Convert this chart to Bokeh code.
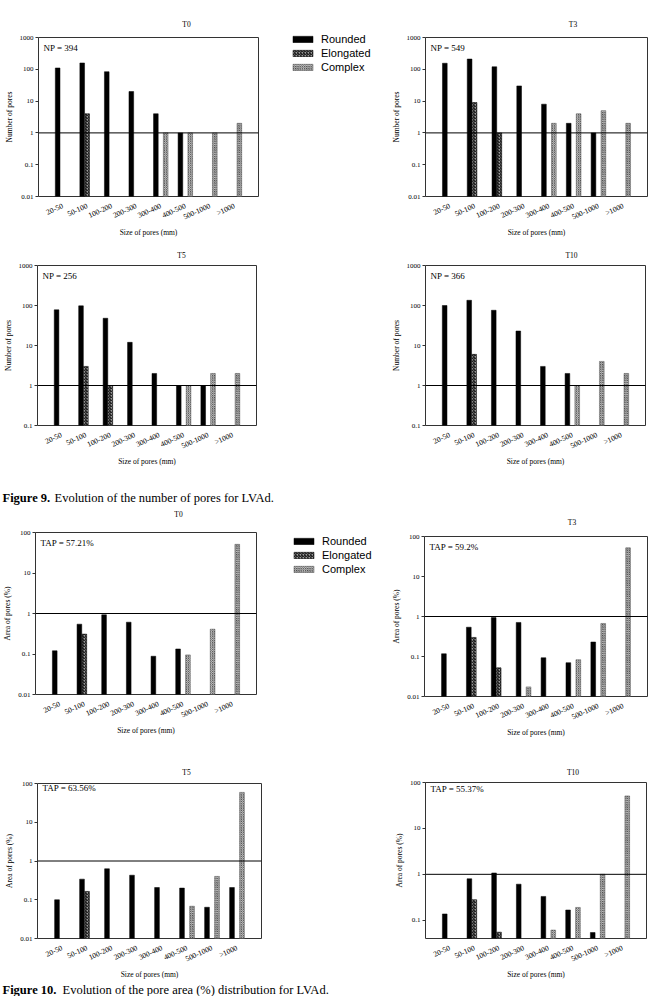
from bokeh.plotting import figure
from bokeh.models import (Range1d, FixedTicker, CustomJSTickFormatter, Span, Label,
                          Legend, LegendItem, Spacer, ColumnDataSource)
from bokeh.layouts import row, column
from bokeh.embed import file_html
from bokeh.resources import INLINE

categories = ["20-50", "50-100", "100-200", "200-300", "300-400", "400-500", "500-1000", ">1000"]
series_names = ["Rounded", "Elongated", "Complex"]

# Figure 9: number of pores (0 = no bar)
n_T0_rounded = [110, 158, 84, 20, 4, 1, 0, 0]
n_T0_elongated = [0, 4, 0, 0, 0, 0, 0, 0]
n_T0_complex = [0, 0, 0, 0, 1, 1, 1, 2]

n_T3_rounded = [155, 210, 120, 30, 8, 2, 1, 0]
n_T3_elongated = [0, 9, 1, 0, 0, 0, 0, 0]
n_T3_complex = [0, 0, 0, 0, 2, 4, 5, 2]

n_T5_rounded = [78, 98, 48, 12, 2, 1, 1, 0]
n_T5_elongated = [0, 3, 1, 0, 0, 0, 0, 0]
n_T5_complex = [0, 0, 0, 0, 0, 1, 2, 2]

n_T10_rounded = [100, 135, 76, 23, 3, 2, 0, 0]
n_T10_elongated = [0, 6, 0, 0, 0, 0, 0, 0]
n_T10_complex = [0, 0, 0, 0, 0, 1, 4, 2]

# Figure 10: area of pores (%) (0 = no bar)
a_T0_rounded = [0.12, 0.545, 0.93, 0.61, 0.088, 0.133, 0, 0]
a_T0_elongated = [0, 0.31, 0, 0, 0, 0, 0, 0]
a_T0_complex = [0, 0, 0, 0, 0, 0.095, 0.41, 51]

a_T3_rounded = [0.117, 0.54, 0.94, 0.71, 0.093, 0.07, 0.23, 0]
a_T3_elongated = [0, 0.30, 0.052, 0, 0, 0, 0, 0]
a_T3_complex = [0, 0, 0, 0.0174, 0, 0.083, 0.67, 52]

a_T5_rounded = [0.10, 0.34, 0.63, 0.43, 0.207, 0.20, 0.064, 0.207]
a_T5_elongated = [0, 0.164, 0, 0, 0, 0, 0, 0]
a_T5_complex = [0, 0, 0, 0, 0, 0.068, 0.40, 59]

a_T10_rounded = [0.137, 0.8, 1.07, 0.61, 0.33, 0.167, 0.054, 0]
a_T10_elongated = [0, 0.28, 0.055, 0, 0, 0, 0, 0]
a_T10_complex = [0, 0, 0, 0, 0.061, 0.19, 1.0, 51]

notes = {
    "9T0": "NP = 394", "9T3": "NP = 549", "9T5": "NP = 256", "9T10": "NP = 366",
    "10T0": "TAP = 57.21%", "10T3": "TAP = 59.2%", "10T5": "TAP = 63.56%", "10T10": "TAP = 55.37%",
}

SERIF = "Liberation Serif"
SANS = "Liberation Sans"
OFFSETS = [-0.2, 0.0, 0.2]
BAR_W = 0.19
TOP_PAD = 5

STYLES = [
    dict(fill_color="black", line_color="black", line_width=0.5),
    dict(fill_color="#9a9a9a", line_color="black", line_width=0.5,
         hatch_pattern="/", hatch_color="black", hatch_scale=3.0, hatch_weight=1.0),
    dict(fill_color="#c4c4c4", line_color="#555555", line_width=0.5,
         hatch_pattern="x", hatch_color="#333333", hatch_scale=2.2, hatch_weight=0.6),
]


def blank(width, height):
    f = figure(width=width, height=height, output_backend="svg", toolbar_location=None,
               x_range=Range1d(0, 1), y_range=Range1d(0, 1),
               x_axis_location=None, y_axis_location=None,
               min_border_left=0, min_border_top=0, min_border_right=0, min_border_bottom=0)
    f.grid.visible = False
    f.outline_line_color = None
    return f


def panel(title, series, ymin, ymax, yticks, ylabel, note, width, height, bl, br, bt, bb, tdist):
    ph = height - (bt - TOP_PAD)
    p = figure(width=width, height=ph, output_backend="svg", toolbar_location=None,
               x_range=Range1d(-0.98, 7.98), y_range=Range1d(ymin, ymax), y_axis_type="log",
               min_border_left=bl, min_border_right=br, min_border_top=TOP_PAD, min_border_bottom=bb)
    p.grid.visible = False
    p.outline_line_color = "#333333"
    p.outline_line_width = 1
    p.background_fill_color = "white"
    p.border_fill_color = "white"

    for k, vals in enumerate(series):
        xs = [i + OFFSETS[k] for i, v in enumerate(vals) if v > 0]
        tops = [v for v in vals if v > 0]
        src = ColumnDataSource(dict(x=xs, top=tops))
        p.vbar(x="x", top="top", bottom=ymin, width=BAR_W, source=src, **STYLES[k])

    p.add_layout(Span(location=1, dimension="width", line_color="black", line_width=1))

    xa = p.xaxis[0]
    xa.ticker = FixedTicker(ticks=list(range(len(categories))))
    xa.major_label_overrides = {i: c for i, c in enumerate(categories)}
    xa.major_label_orientation = 0.42
    xa.major_label_text_font = SERIF
    xa.major_label_text_font_size = "7.5px"
    xa.major_label_text_color = "black"
    xa.major_tick_line_color = None
    xa.minor_tick_line_color = None
    xa.axis_line_color = None
    xa.major_label_standoff = 3
    xa.axis_label = "Size of pores (mm)"
    xa.axis_label_text_font = SERIF
    xa.axis_label_text_font_size = "7.5px"
    xa.axis_label_text_font_style = "normal"
    xa.axis_label_text_color = "black"
    xa.axis_label_standoff = 0

    ya = p.yaxis[0]
    ya.ticker = FixedTicker(ticks=yticks)
    ya.formatter = CustomJSTickFormatter(code="return String(tick);")
    ya.major_label_text_font = SERIF
    ya.major_label_text_font_size = "7px"
    ya.major_label_text_color = "black"
    ya.major_tick_in = 0
    ya.major_tick_out = 3
    ya.major_tick_line_color = "#333333"
    ya.minor_tick_line_color = None
    ya.axis_line_color = None
    ya.major_label_standoff = 2
    ya.axis_label = ylabel
    ya.axis_label_text_font = SERIF
    ya.axis_label_text_font_size = "7.5px"
    ya.axis_label_text_font_style = "normal"
    ya.axis_label_text_color = "black"
    ya.axis_label_standoff = 3

    fh = ph - TOP_PAD - bb
    p.add_layout(Label(x=5, y=fh - 10, x_units="screen", y_units="screen", text=note,
                       text_font=SERIF, text_font_size="9px", text_baseline="middle",
                       text_color="black"))

    # title strip above the plot, title centred over the frame
    th = bt - TOP_PAD
    t = blank(width, th)
    fw = width - bl - br
    t.add_layout(Label(x=bl + fw / 2, y=max(tdist - TOP_PAD, 5), x_units="screen", y_units="screen",
                       text=title, text_font=SERIF, text_font_size="7.5px", text_align="center",
                       text_baseline="middle", text_color="black"))
    return column(t, p)


def legend_fig(width, height, left, top):
    f = figure(width=width, height=height, output_backend="svg", toolbar_location=None,
               x_range=Range1d(0, 1), y_range=Range1d(0, 1),
               x_axis_location=None, y_axis_location=None,
               min_border_left=left, min_border_top=top, min_border_right=0, min_border_bottom=0)
    f.grid.visible = False
    f.outline_line_color = None
    items = []
    for k, name in enumerate(series_names):
        # legend-only renderers: their data lies outside the visible range
        r = f.vbar(x=[-5], top=[-5], bottom=-6, width=0.1, **STYLES[k])
        items.append(LegendItem(label=name, renderers=[r]))
    leg = Legend(items=items, location="top_left", margin=0, padding=0,
                 border_line_color=None, background_fill_alpha=0,
                 glyph_width=25, glyph_height=8, label_height=14, spacing=0,
                 label_standoff=6, label_text_font=SANS, label_text_font_size="11px",
                 label_text_baseline="middle", label_text_color="black")
    f.add_layout(leg, "center")
    return f


def caption(width, height, bold, rest, ymid, x0, gap):
    f = blank(width, height)
    f.add_layout(Label(x=x0, y=height - ymid, x_units="screen", y_units="screen", text=bold,
                       text_font=SERIF, text_font_size="12.5px", text_font_style="bold",
                       text_baseline="middle", text_color="black"))
    f.add_layout(Label(x=x0 + gap, y=height - ymid, x_units="screen", y_units="screen", text=rest,
                       text_font=SERIF, text_font_size="12.5px", text_baseline="middle",
                       text_color="black"))
    return f


T9 = [0.1, 1, 10, 100, 1000]
T9b = [0.01, 0.1, 1, 10, 100, 1000]
T10 = [0.01, 0.1, 1, 10, 100]
T10b = [0.1, 1, 10, 100]

f9_T0 = panel("T0", [n_T0_rounded, n_T0_elongated, n_T0_complex], 0.01, 1000, T9b, "Number of pores",
              notes["9T0"], 280, 245, 38, 22, 37, 49, 13)
leg1 = legend_fig(108, 245, 10, 32)
f9_T3 = panel("T3", [n_T3_rounded, n_T3_elongated, n_T3_complex], 0.01, 1000, T9b, "Number of pores",
              notes["9T3"], 273, 245, 36, 14, 37, 49, 13)

f9_T5 = panel("T5", [n_T5_rounded, n_T5_elongated, n_T5_complex], 0.1, 1000, T9, "Number of pores",
              notes["9T5"], 280, 235, 32, 24, 20, 55, 10)
f9_T10 = panel("T10", [n_T10_rounded, n_T10_elongated, n_T10_complex], 0.1, 1000, T9, "Number of pores",
               notes["9T10"], 273, 235, 35, 16, 20, 55, 10)

cap9 = caption(661, 25, "Figure 9.", "Evolution of the number of pores for LVAd.", 17, 2, 52)

f10_T0 = panel("T0", [a_T0_rounded, a_T0_elongated, a_T0_complex], 0.01, 100, T10, "Area of pores (%)",
               notes["10T0"], 280, 250, 30, 24, 27, 61, 18)
leg2 = legend_fig(108, 250, 11, 29)
f10_T3 = panel("T3", [a_T3_rounded, a_T3_elongated, a_T3_complex], 0.01, 100, T10, "Area of pores (%)",
               notes["10T3"], 273, 250, 36, 14, 31, 59, 14)

f10_T5 = panel("T5", [a_T5_rounded, a_T5_elongated, a_T5_complex], 0.01, 100, T10, "Area of pores (%)",
               notes["10T5"], 280, 227, 37, 19, 28, 38, 11)
f10_T10 = panel("T10", [a_T10_rounded, a_T10_elongated, a_T10_complex], 0.04, 100, T10b, "Area of pores (%)",
                notes["10T10"], 273, 227, 37, 15, 27, 40, 10)

cap10 = caption(661, 14, "Figure 10.", "Evolution of the pore area (%) distribution for LVAd.", 7, 2, 60)

layout = column(
    row(f9_T0, leg1, f9_T3),
    row(f9_T5, Spacer(width=108, height=235), f9_T10),
    cap9,
    row(f10_T0, leg2, f10_T3),
    row(f10_T5, Spacer(width=108, height=227), f10_T10),
    cap10,
)

with open("out.html", "w") as fh:
    fh.write(file_html(layout, INLINE))
